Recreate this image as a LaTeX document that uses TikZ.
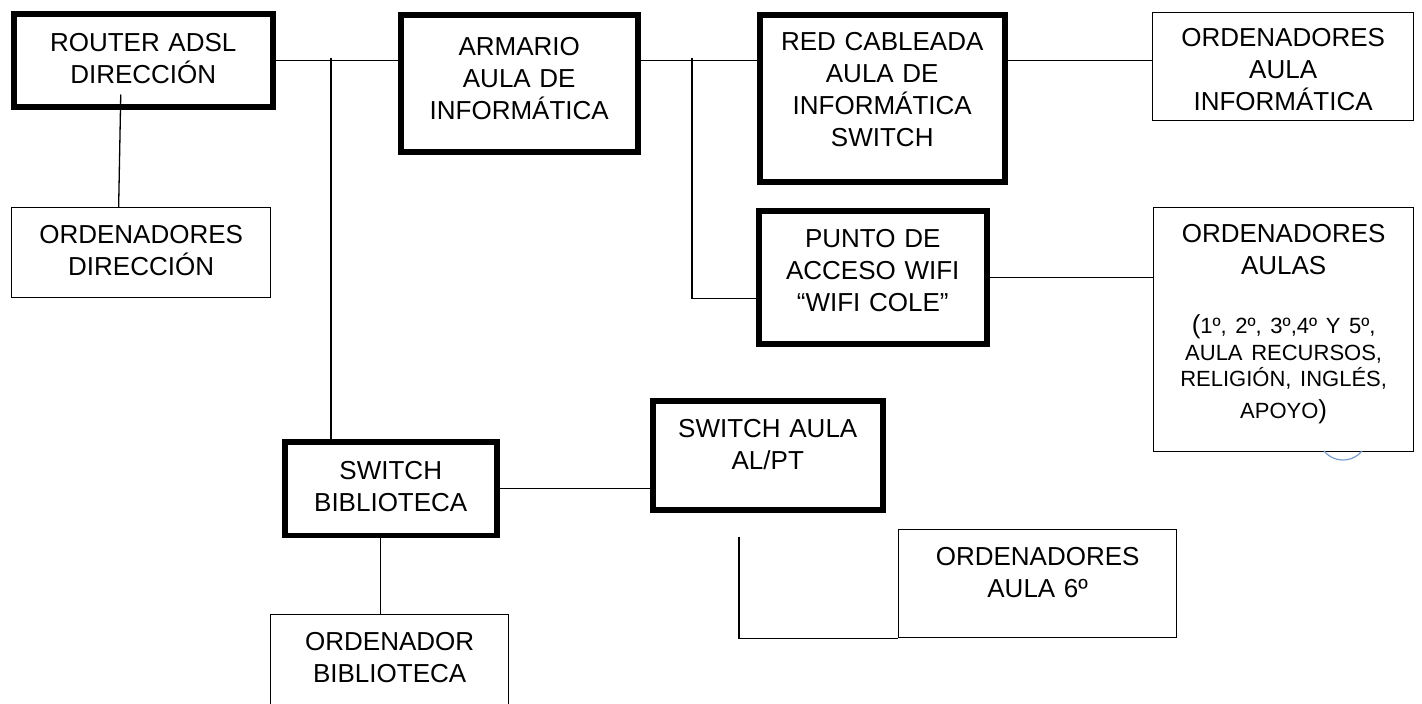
\documentclass[tikz,border=0pt]{standalone}
\usepackage{fontspec}
\setmainfont{Liberation Sans}
\newcommand{\bigtxt}{\fontsize{26pt}{32pt}\selectfont}
\newcommand{\smalltxt}{\fontsize{22pt}{26.5pt}\selectfont}
\definecolor{arcblue}{RGB}{122,156,206}

\begin{document}
\begin{tikzpicture}[
  x=1pt, y=-1pt,
  box/.style  = {draw, line width=1.3pt, anchor=north west, align=center, inner sep=0pt,
                 text width=#1, text height=37pt, font=\bigtxt},
  hub/.style  = {box=#1, line width=5.5pt},
  line/.style = {line width=1.3pt}
]
\useasboundingbox (0,0) rectangle (1422,704);
\clip (0,0) rectangle (1422,704);

% Nodes
\node[hub=259pt, text height=38pt, text depth=55pt] (router) at (11,11) {ROUTER ADSL\\DIRECCIÓN};
\node[box=259pt, text height=36pt, text depth=53.5pt] (ordDir) at (11,207) {ORDENADORES\\DIRECCIÓN};
\node[hub=237pt, text height=41pt, text depth=96pt] (armario) at (398,12) {ARMARIO\\AULA DE\\INFORMÁTICA};
\node[hub=245pt, text height=36pt, text depth=131pt] (red) at (757,12) {RED CABLEADA\\AULA DE\\INFORMÁTICA\\SWITCH};
\node[box=261pt, text height=34pt, text depth=74pt] (ordInf) at (1152,12) {ORDENADORES\\AULA\\INFORMÁTICA};
\node[hub=228pt, text depth=96pt] (punto) at (756,208) {PUNTO DE\\ACCESO WIFI\\“WIFI COLE”};
\node[box=260pt, text height=35pt, text depth=209pt] (ordAulas) at (1153,207)
  {ORDENADORES\\AULAS\par\vspace{32.5pt}\smalltxt{\bigtxt(}1º, 2º, 3º,4º Y 5º,\\AULA RECURSOS,\\RELIGIÓN, INGLÉS,\\APOYO{\bigtxt)}};
\node[hub=212pt, text height=38pt, text depth=55.5pt] (swBib) at (282,439) {SWITCH\\BIBLIOTECA};
\node[box=238pt, text height=36pt, text depth=74pt] (ordBib) at (270,614) {ORDENADOR\\BIBLIOTECA};
\node[hub=230pt, text depth=72pt] (swAula) at (650,398) {SWITCH AULA\\AL/PT};
\node[box=278pt, text height=36pt, text depth=72pt] (ordSexto) at (898,529) {ORDENADORES\\AULA 6º};

% Junctions and loose end
\coordinate (jA) at (331,57.5);
\coordinate (jB) at (692,57.5);
\coordinate (loose) at (739,537);

% Connections (top row)
\draw[line] (router.east) -- (router.east -| armario.west);
\draw[line] (armario.east |- router.east) -- (router.east -| red.west);
\draw[line] (red.east |- router.east) -- (router.east -| ordInf.west);
\draw[line] ([xshift=-22.5pt]ordDir.north) -- ([xshift=-22.5pt,yshift=15pt]router.south);

% Wifi branch
\draw[line] (jB) |- ([yshift=-21.5pt]punto.west);
\draw[line] (punto.east) -- (punto.east -| ordAulas.west);

% Library branch
\draw[line] (jA) -- (jA |- swBib.north);
\draw[line] (swBib.east) -- (swBib.east -| swAula.west);
\draw[line] ([xshift=-10pt]swBib.south) -- ([xshift=-10pt]swBib.south |- ordBib.north);
\draw[line] (loose) |- (ordSexto.south west);

% small arc under the classrooms box
\draw[arcblue, line width=1.2pt] (1324,451) arc[start angle=140.6, end angle=39.4, radius=24.6];

\end{tikzpicture}
\end{document}
